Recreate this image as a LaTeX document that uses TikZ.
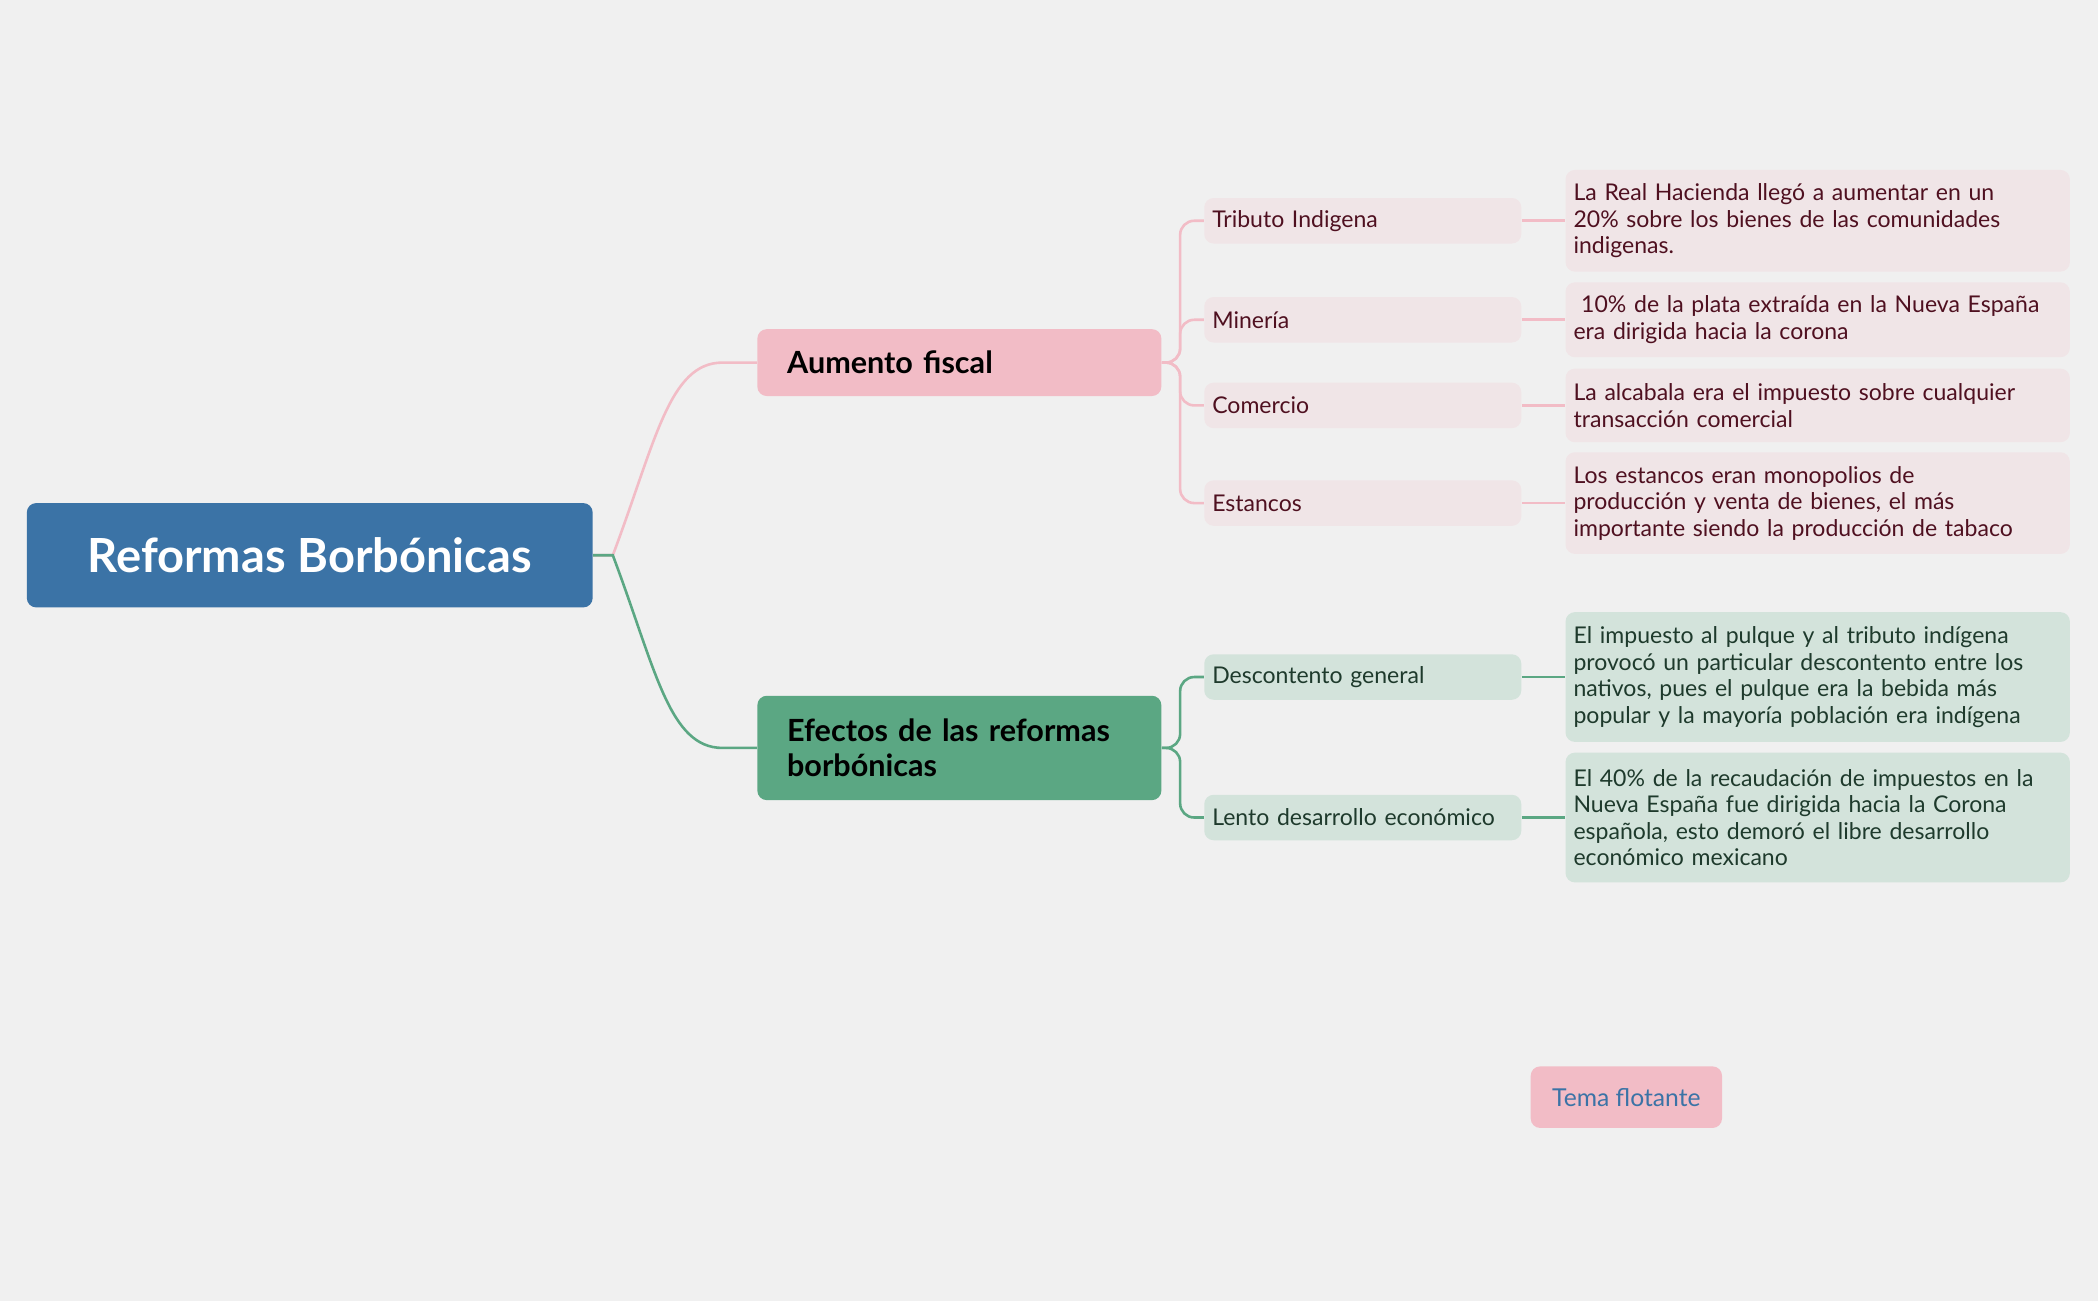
\documentclass[tikz,border=0pt]{standalone}
\usepackage{fontspec}
\setmainfont{Lato}
\usetikzlibrary{positioning,calc}
\definecolor{bgcol}{HTML}{F0F0F0}
\definecolor{rootcol}{HTML}{3B73A6}
\definecolor{pinkcol}{HTML}{F2BCC6}
\definecolor{pinklight}{HTML}{F0E5E7}
\definecolor{pinktext}{HTML}{4F1020}
\definecolor{greencol}{HTML}{5BA783}
\definecolor{greenlight}{HTML}{D3E3DB}
\definecolor{greentext}{HTML}{1E3A2C}
\tikzset{
	root/.style={rectangle, rounded corners=4pt, fill=rootcol, text=white, font=\fontsize{20}{22}\selectfont\bfseries, minimum width=8.46cm, minimum height=1.56cm},
	branch/.style={rectangle, rounded corners=4pt, minimum width=6.04cm, align=left, text width=5.15cm, font=\fontsize{13}{15}\selectfont\bfseries},
	sub/.style={rectangle, rounded corners=4pt, minimum width=4.74cm, minimum height=0.68cm, text width=4.5cm, align=left, font=\fontsize{9.8}{11.5}\selectfont},
	detail/.style={rectangle, rounded corners=4pt, minimum width=7.54cm, text width=7.3cm, align=left, font=\fontsize{9.8}{11.3}\selectfont, inner sep=3pt},
	pinkline/.style={draw=pinkcol, line width=1.1pt, rounded corners=6pt},
	greenline/.style={draw=greencol, line width=1.1pt, rounded corners=6pt}
}
\begin{document}
\begin{tikzpicture}[x=0.02cm, y=-0.02cm]
\fill[bgcol] (0,0) rectangle (1568,972);
\useasboundingbox (0,0) rectangle (1568,972);
% main topics
\node[root] (root) at (231.5,415) {Reformas Borbónicas};
\node[branch, fill=pinkcol, minimum height=1cm] (fiscal) at (717,271) {Aumento fiscal};
\node[branch, fill=greencol, minimum height=1.56cm] (efectos) at (717,559) {Efectos de las reformas\\borbónicas};
% subtopics
\node[sub, fill=pinklight, text=pinktext] (tributo) at (1018.5,165) {Tributo Indigena};
\node[sub, fill=pinklight, text=pinktext] (mineria) at (1018.5,239) {Minería};
\node[sub, fill=pinklight, text=pinktext] (comercio) at (1018.5,303) {Comercio};
\node[sub, fill=pinklight, text=pinktext] (estancos) at (1018.5,376) {Estancos};
\node[sub, fill=greenlight, text=greentext] (descontento) at (1018.5,506) {Descontento general};
\node[sub, fill=greenlight, text=greentext] (lento) at (1018.5,611) {Lento desarrollo económico};
% details
\node[detail, fill=pinklight, text=pinktext, minimum height=1.52cm] (dtributo) at (1358.5,165) {La Real Hacienda llegó a aumentar en un\\20\% sobre los bienes de las comunidades\\indigenas.};
\node[detail, fill=pinklight, text=pinktext, minimum height=1.12cm] (dmineria) at (1358.5,239) {\ 10\% de la plata extraída en la Nueva España\\era dirigida hacia la corona};
\node[detail, fill=pinklight, text=pinktext, minimum height=1.1cm] (dcomercio) at (1358.5,303) {La alcabala era el impuesto sobre cualquier\\transacción comercial};
\node[detail, fill=pinklight, text=pinktext, minimum height=1.52cm] (destancos) at (1358.5,376) {Los estancos eran monopolios de\\producción y venta de bienes, el más\\importante siendo la producción de tabaco};
\node[detail, fill=greenlight, text=greentext, minimum height=1.94cm] (ddescontento) at (1358.5,506) {El impuesto al pulque y al tributo indígena\\provocó un particular descontento entre los\\nativos, pues el pulque era la bebida más\\popular y la mayoría población era indígena};
\node[detail, fill=greenlight, text=greentext, minimum height=1.94cm] (dlento) at (1358.5,611) {El 40\% de la recaudación de impuestos en la\\Nueva España fue dirigida hacia la Corona\\española, esto demoró el libre desarrollo\\económico mexicano};
% floating topic
\node[rectangle, rounded corners=4pt, fill=pinkcol, text=rootcol, minimum width=2.86cm, minimum height=0.92cm, font=\fontsize{10.5}{12}\selectfont] (tema) at (1215.5,820) {Tema flotante};
% connectors
\coordinate (rj) at (458,415);
\draw[pinkline, rounded corners=0pt] (root.east) -- (rj) .. controls (490,330) and (500,271) .. (540,271) -- (fiscal.west);
\draw[greenline, rounded corners=0pt] (root.east) -- (rj) .. controls (490,500) and (500,559) .. (540,559) -- (efectos.west);
\coordinate (pj) at (882,271);
\foreach \s in {tributo,mineria,comercio,estancos}
	\draw[pinkline] (fiscal.east) -- (pj) |- (\s.west);
\coordinate (gj) at (882,559);
\foreach \s in {descontento,lento}
	\draw[greenline] (efectos.east) -- (gj) |- (\s.west);
\foreach \s in {tributo,mineria,comercio,estancos}
	\draw[pinkline] (\s.east) -- (d\s.west);
\foreach \s in {descontento,lento}
	\draw[greenline] (\s.east) -- (d\s.west);
\end{tikzpicture}
\end{document}
